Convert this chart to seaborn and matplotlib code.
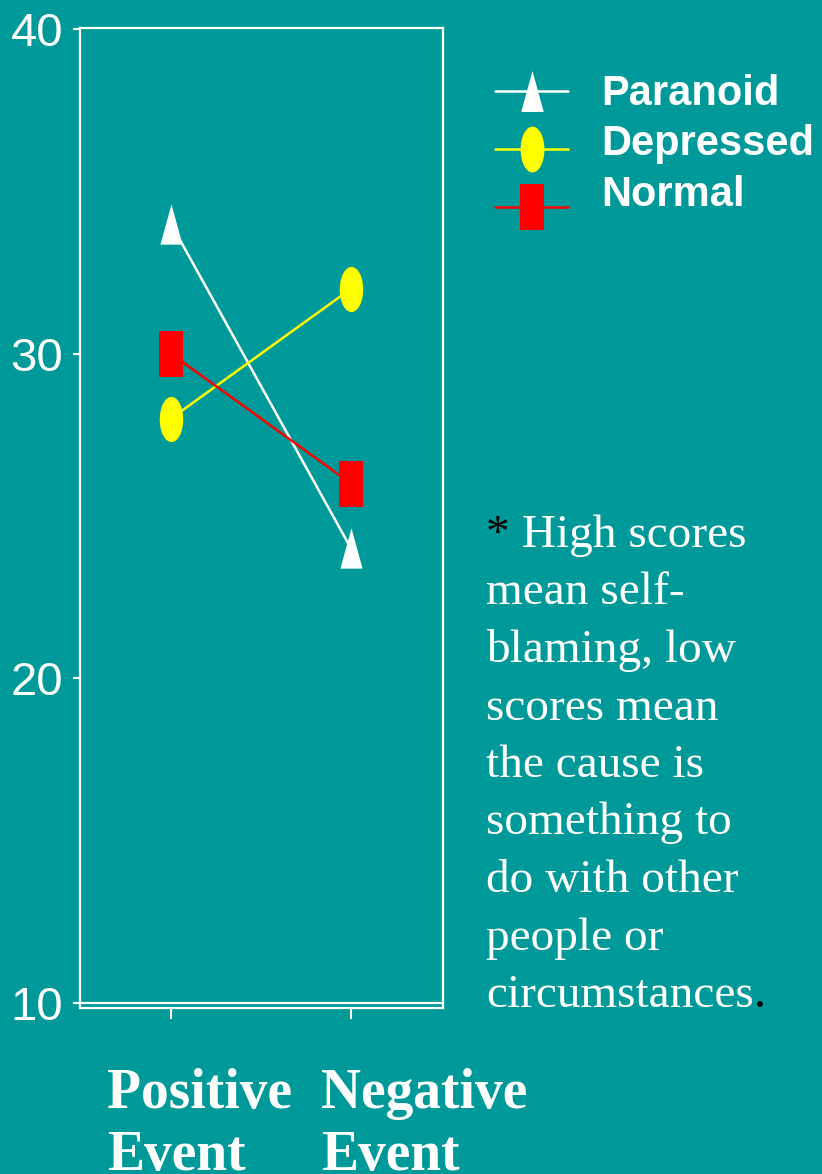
import numpy as np
import pandas as pd
import matplotlib
matplotlib.use("Agg")
import matplotlib.pyplot as plt
from matplotlib.path import Path
from matplotlib.transforms import Affine2D
from matplotlib.lines import Line2D
import seaborn as sns

# data
events = ["Positive Event", "Negative Event"]
groups = ["Paranoid", "Depressed", "Normal"]
paranoid = [34, 24]
depressed = [28, 32]
normal = [30, 26]
yticks = [10, 20, 30, 40]
note_lines = ["High scores", "mean self-", "blaming, low", "scores mean", "the cause is",
              "something to", "do with other", "people or", "circumstances"]

df = pd.DataFrame({"event": [0, 1] * 3,
                   "score": paranoid + depressed + normal,
                   "group": np.repeat(groups, 2)})

BG = "#009999"
W, H = 822, 1174
colors = {"Paranoid": "#ffffff", "Depressed": "#ffff00", "Normal": "#ff0000"}

# tall, narrow markers like the original
tri = Path([(0, 1), (-0.55, -1), (0.55, -1), (0, 1)],
           [Path.MOVETO, Path.LINETO, Path.LINETO, Path.CLOSEPOLY])
oval = Path.unit_circle().transformed(Affine2D().scale(0.52, 1))
rect = Path([(-0.52, -1), (0.52, -1), (0.52, 1), (-0.52, 1), (-0.52, -1)], closed=True)
markers = {"Paranoid": tri, "Depressed": oval, "Normal": rect}
msize = {"Paranoid": 29, "Depressed": 32.5, "Normal": 33}


def fx(x):
    return x / W


def fy(y):
    return 1 - y / H


sns.set_theme(style="ticks")
plt.rcParams['font.family'] = ['Liberation Sans', 'DejaVu Sans']

fig = plt.figure(figsize=(W / 100, H / 100), dpi=100, facecolor=BG)
ax = fig.add_axes([fx(80), fy(1008), 363 / W, 980 / H])
ax.set_facecolor(BG)

for g in groups:
    sns.lineplot(data=df[df.group == g], x="event", y="score", color=colors[g],
                 marker=markers[g], markersize=msize[g], markeredgewidth=0,
                 linewidth=1.8, errorbar=None, legend=False, ax=ax)

ax.set_xlim(-0.5056, 1.511)
ax.set_ylim(10 - 5 / 32.47, 40 + 1 / 32.47)
ax.axhline(10, xmin=0, xmax=(441 - 80) / 363, color="white", lw=1.6)
for s in ax.spines.values():
    s.set_color("white")
    s.set_linewidth(1.6)

ax.set_yticks(yticks)
ax.set_yticklabels([str(t) for t in yticks])
ax.set_xticks([0, 1])
ax.set_xticklabels(["", ""])
ax.tick_params(axis="y", direction="out", length=5, width=1.5, color="white",
               labelcolor="white", labelsize=34, pad=7)
ax.tick_params(axis="x", direction="out", length=8, width=1.5, color="white")
ax.set_xlabel("")
ax.set_ylabel("")

# legend: handles via legend, names as separate text (they sit a bit off in the original)
handles = [Line2D([], [], color=colors[g], marker=markers[g], markersize=msize[g] + 0.5,
                  markeredgewidth=0, lw=1.8) for g in groups]
fig.legend(handles, [""] * 3, loc="upper left", bbox_to_anchor=(fx(495), fy(81)),
           bbox_transform=fig.transFigure, frameon=False, borderpad=0, borderaxespad=0,
           fontsize=10, handlelength=5.26, handleheight=3.2, labelspacing=1.851,
           handletextpad=0)
for g, yb in zip(groups, [105, 155, 206]):
    fig.text(fx(601), fy(yb), g, color="white", fontsize=30, fontweight="bold",
             va="baseline", ha="left")

# x category labels, left aligned text boxes
for e, xl in zip(events, [107, 321]):
    w1, w2 = e.split()
    for word, yb in zip([w1, w2], [1108, 1170]):
        fig.text(fx(xl), fy(yb), word, color="white", fontsize=40, fontweight="bold",
                 family=["Liberation Serif"], va="baseline", ha="left")

# note text: black asterisk and full stop, white words
serif = dict(fontsize=34, family=["Liberation Serif"], va="baseline", ha="left")
star = fig.text(fx(486), fy(547), "*", color="black", **serif)
ax.annotate(" " + note_lines[0], xy=(1, 0), xycoords=star, color="white",
            annotation_clip=False, **{**serif, "va": "bottom"})
last = None
for i, line in enumerate(note_lines[1:], start=1):
    last = fig.text(fx(486), fy(547 + i * 57.5), line, color="white", **serif)
ax.annotate(".", xy=(1, 0), xycoords=last, color="black", annotation_clip=False,
            **{**serif, "va": "bottom"})

fig.savefig("out.png", dpi=100, facecolor=BG)
